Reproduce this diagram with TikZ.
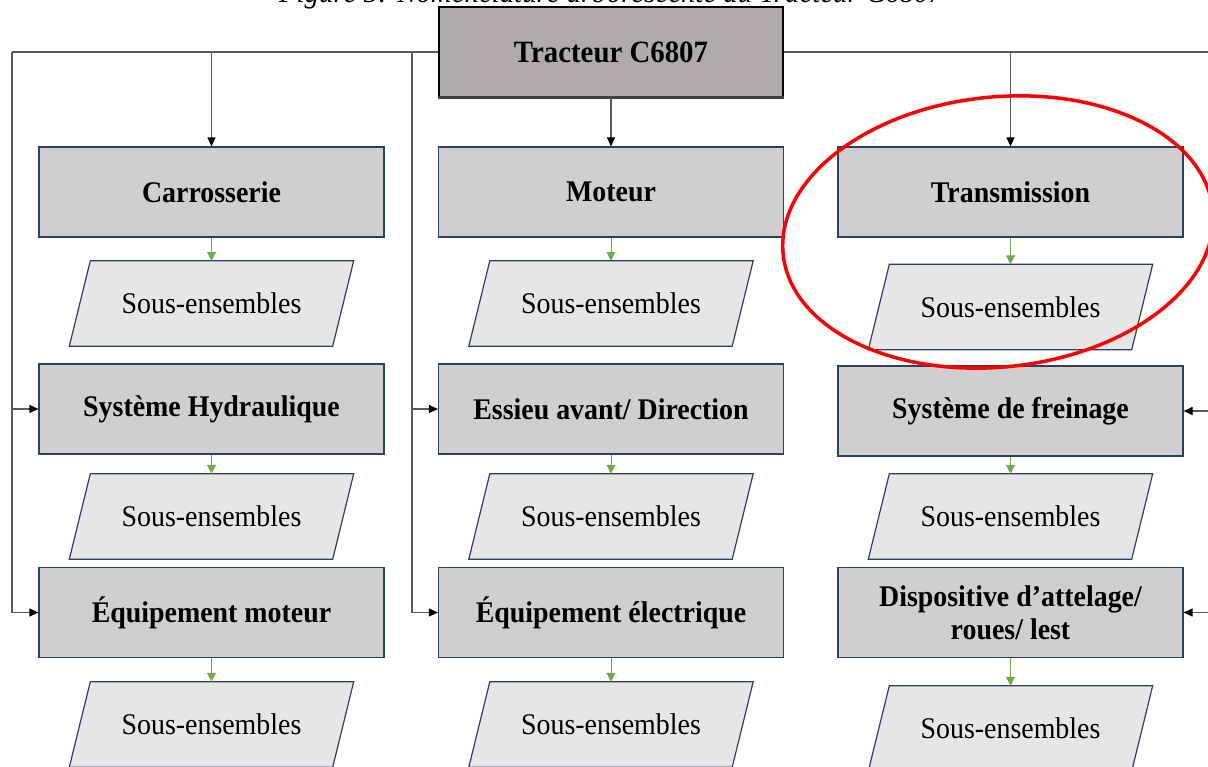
\documentclass[tikz,border=0pt]{standalone}
\usepackage{fontspec}
\setmainfont{Liberation Serif}[FakeStretch=0.93]
\usetikzlibrary{arrows.meta,backgrounds}
\definecolor{rootfill}{HTML}{AFABAB}
\definecolor{boxfill}{HTML}{D0CECE}
\definecolor{subfill}{HTML}{E7E6E6}
\definecolor{navy}{HTML}{2F3F60}
\definecolor{wiregray}{HTML}{5A5A5A}
\definecolor{leafgreen}{HTML}{70AD47}
\definecolor{circlered}{HTML}{FF0000}
\begin{document}
\begin{tikzpicture}[x=1pt,y=-1pt,
  rootbox/.style={draw=black, line width=1.5pt, fill=rootfill,
    minimum width=344pt, minimum height=90pt, inner sep=0pt,
    font=\fontsize{31}{34}\selectfont\bfseries},
  partbox/.style={draw=navy, line width=1.2pt, fill=boxfill,
    minimum width=345pt, minimum height=90pt, inner sep=0pt, align=center,
    font=\fontsize{30}{33}\selectfont\bfseries},
  subbox/.style={rectangle, minimum width=284pt, minimum height=85pt, inner sep=0pt,
    font=\fontsize{30}{33}\selectfont},
  subshape/.style={draw=navy, line width=1.2pt, fill=subfill, line join=miter},
  wire/.style={draw=wiregray, line width=1.1pt},
  arr/.style={wire, -{Triangle[length=9pt,width=8pt,color=black]}},
  leafarr/.style={draw=leafgreen, line width=1pt, -{Triangle[length=9pt,width=9pt]}},
]
\useasboundingbox (0,0) rectangle (1208,767);
\clip (0,0) rectangle (1208,767);

% caption line above the tree
\node[anchor=base, font=\fontsize{31}{34}\selectfont\itshape] (cap) at (611,3)
  {Figure 5: Nomenclature arborescente du Tracteur C6807};

% root
\node[rootbox] (root) at (611,52) {Tracteur C6807};
\draw[line width=2.5pt, black!75] (root.south west) -- (root.south east);

% column 1
\node[partbox] (carr) at (211.5,192)   {Carrosserie};
\node[subbox]  (s11)  at (211.5,303.5) {Sous-ensembles};
\node[partbox] (hyd)  at (211.5,409)   {Système Hydraulique};
\node[subbox]  (s12)  at (211.5,516.5) {Sous-ensembles};
\node[partbox] (eqm)  at (211.5,612.5) {Équipement moteur};
\node[subbox]  (s13)  at (211.5,724.5) {Sous-ensembles};

% column 2
\node[partbox] (mot)  at (611,192)   {Moteur};
\node[subbox]  (s21)  at (611,303.5) {Sous-ensembles};
\node[partbox] (ess)  at (611,409)   {Essieu avant/ Direction};
\node[subbox]  (s22)  at (611,516.5) {Sous-ensembles};
\node[partbox] (eqe)  at (611,612.5) {Équipement électrique};
\node[subbox]  (s23)  at (611,724.5) {Sous-ensembles};

% column 3
\node[partbox] (trans) at (1010.5,192)   {Transmission};
\node[subbox]  (s31)   at (1010.5,307)   {Sous-ensembles};
\node[partbox] (frein) at (1010.5,411)   {Système de freinage};
\node[subbox]  (s32)   at (1010.5,516.5) {Sous-ensembles};
\node[partbox] (disp)  at (1010.5,612.5) {Dispositive d’attelage/\\roues/ lest};
\node[subbox]  (s33)   at (1010.5,728.5) {Sous-ensembles};

% slanted outlines of the sub-assembly boxes
\begin{pgfonlayer}{background}
  \foreach \s in {s11,s12,s13,s21,s22,s23,s31,s32,s33}
    \path[subshape] ([xshift=21pt]\s.north west) -- (\s.north east)
      -- ([xshift=-21pt]\s.south east) -- (\s.south west) -- cycle;
\end{pgfonlayer}

% buses
\coordinate (lbus) at (12,52);
\coordinate (mbus) at (412,52);
\coordinate (rbus) at (1222,52);

\draw[wire] (root.west) -- (lbus);
\draw[wire] (root.east) -- (rbus);
\draw[arr] (lbus -| carr.north) -- (carr.north);
\draw[arr] (lbus) |- (hyd.west);
\draw[arr] (lbus) |- (eqm.west);
\draw[arr] (mbus) |- (ess.west);
\draw[arr] (mbus) |- (eqe.west);
\draw[arr] (root.south) -- (mot.north);
\draw[arr] (rbus -| trans.north) -- (trans.north);
\draw[arr] (rbus) |- (frein.east);
\draw[arr] (rbus) |- (disp.east);

% part -> sub-assemblies
\foreach \p/\s in {carr/s11, hyd/s12, eqm/s13, mot/s21, ess/s22, eqe/s23,
                   trans/s31, frein/s32, disp/s33}
  \draw[leafarr] (\p.south) -- (\s.north);

% highlight around the transmission branch
\draw[circlered, line width=3.5pt, rotate around={6:(998,232)}]
  (998,232) ellipse [x radius=216pt, y radius=135pt];
\end{tikzpicture}
\end{document}
